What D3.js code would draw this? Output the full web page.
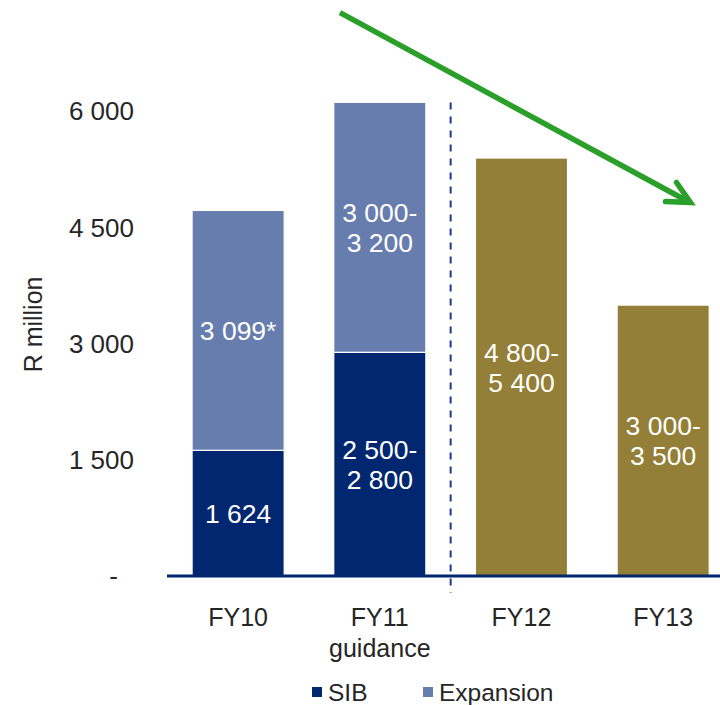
<!DOCTYPE html>
<html>
<head>
<meta charset="utf-8">
<script src="https://cdn.jsdelivr.net/npm/d3@7"></script>
<style>
  body { margin: 0; background: #fff; }
  svg { display: block; font-family: "Liberation Sans", Arial, sans-serif; }
</style>
</head>
<body>
<div class="visHolder"></div>
<script>
// ========================================
// Data
// ========================================
const categories = ['FY10', 'FY11', 'FY12', 'FY13'];
const categoryLines = [['FY10'], ['FY11', 'guidance'], ['FY12'], ['FY13']];
const sibValues = [1624, 2890, 0, 0];          // bottom segment (FY11 drawn at ~2 890)
const expansionValues = [3099, 3230, 0, 0];    // top segment
const forecastValues = [0, 0, 5400, 3500];     // single olive bars
const sibLabels = [['1 624'], ['2 500-', '2 800'], [], []];
const expansionLabels = [['3 099*'], ['3 000-', '3 200'], [], []];
const forecastLabels = [[], [], ['4 800-', '5 400'], ['3 000-', '3 500']];
const yTicks = [0, 1500, 3000, 4500, 6000];
const legendData = [
  {label: 'SIB', color: '#00276F'},
  {label: 'Expansion', color: '#677DAD'}
];

// ========================================
// Dimensions
// ========================================
const width = 720, height = 705,
  baseY = 576, topY = 111.6,      // y position of 0 and 6 000
  sibColor = '#00276F', expColor = '#677DAD', foreColor = '#937F37',
  textColor = '#262626', labelSize = 26.5, lineGap = 30;

const svg = d3.select('.visHolder')
  .append('svg')
    .attr('width', width)
    .attr('height', height);

const x = d3.scaleBand()
  .domain(categories)
  .range([142.5, 758.8])
  .paddingInner(0.35)
  .paddingOuter(0.35);

const y = d3.scaleLinear()
  .domain([0, 6000])
  .range([baseY, topY]);

// ========================================
// Y axis (labels only)
// ========================================
const spaceFmt = v => v === 0 ? '-' : d3.format(',')(v).replace(/,/g, ' ');
const yAxis = svg.append('g')
  .attr('transform', 'translate(134,0)')
  .call(d3.axisLeft(y).tickValues(yTicks).tickFormat(spaceFmt).tickSize(0).tickPadding(0))
  .attr('font-family', null)
  .attr('font-size', null);
yAxis.select('.domain').remove();
yAxis.selectAll('text')
  .attr('fill', textColor)
  .style('font-size', '26px')
  .attr('dx', d => d === 0 ? -16 : 0);

svg.append('text')
  .attr('transform', 'translate(42,' + y(3250) + ') rotate(-90)')
  .attr('text-anchor', 'middle')
  .attr('fill', textColor)
  .style('font-size', '25px')
  .text('R million');

// ========================================
// Bars
// ========================================
const bars = svg.append('g');
const rows = categories.map((c, i) => ({
  c, i, sib: sibValues[i], exp: expansionValues[i], fore: forecastValues[i]
}));

bars.selectAll('rect.sib')
  .data(rows.filter(d => d.sib > 0))
  .enter().append('rect')
    .attr('class', 'sib')
    .attr('x', d => x(d.c))
    .attr('width', x.bandwidth())
    .attr('y', d => y(d.sib))
    .attr('height', d => y(0) - y(d.sib))
    .attr('fill', sibColor)
    .attr('stroke', '#ffffff')
    .attr('stroke-width', 1.2);

bars.selectAll('rect.exp')
  .data(rows.filter(d => d.exp > 0))
  .enter().append('rect')
    .attr('class', 'exp')
    .attr('x', d => x(d.c))
    .attr('width', x.bandwidth())
    .attr('y', d => y(d.sib + d.exp))
    .attr('height', d => y(d.sib) - y(d.sib + d.exp))
    .attr('fill', expColor)
    .attr('stroke', '#ffffff')
    .attr('stroke-width', 1.2);

bars.selectAll('rect.fore')
  .data(rows.filter(d => d.fore > 0))
  .enter().append('rect')
    .attr('class', 'fore')
    .attr('x', d => x(d.c))
    .attr('width', x.bandwidth())
    .attr('y', d => y(d.fore))
    .attr('height', d => y(0) - y(d.fore))
    .attr('fill', foreColor)
    .attr('stroke', '#ffffff')
    .attr('stroke-width', 1.2);

// labels inside bars, centred on each segment
function addLabel(lines, cx, cy) {
  if (!lines.length) return;
  const t = svg.append('text')
    .attr('text-anchor', 'middle')
    .attr('fill', '#ffffff')
    .style('font-size', labelSize + 'px');
  const first = cy - (lines.length - 1) * lineGap / 2;
  lines.forEach((l, k) => {
    t.append('tspan')
      .attr('x', cx)
      .attr('y', first + k * lineGap)
      .attr('dy', '0.36em')
      .text(l);
  });
}
rows.forEach(d => {
  const cx = x(d.c) + x.bandwidth() / 2;
  if (d.sib > 0) addLabel(sibLabels[d.i], cx, (y(0) + y(d.sib)) / 2);
  if (d.exp > 0) addLabel(expansionLabels[d.i], cx, (y(d.sib) + y(d.sib + d.exp)) / 2);
  if (d.fore > 0) addLabel(forecastLabels[d.i], cx, (y(0) + y(d.fore)) / 2);
});

// ========================================
// Baseline and dashed divider
// ========================================
svg.append('line')
  .attr('x1', 167).attr('x2', width)
  .attr('y1', y(0)).attr('y2', y(0))
  .attr('stroke', '#00276F')
  .attr('stroke-width', 3);

const divX = (x('FY11') + x.bandwidth() + x('FY12')) / 2;
svg.append('line')
  .attr('x1', divX).attr('x2', divX)
  .attr('y1', y(6000) - 9).attr('y2', y(0) + 17)
  .attr('stroke', '#1F3C8C')
  .attr('stroke-width', 2)
  .attr('stroke-dasharray', '7,7');

// ========================================
// Category labels
// ========================================
categories.forEach((c, i) => {
  const t = svg.append('text')
    .attr('text-anchor', 'middle')
    .attr('fill', textColor)
    .style('font-size', '25px');
  categoryLines[i].forEach((l, k) => {
    t.append('tspan')
      .attr('x', x(c) + x.bandwidth() / 2)
      .attr('y', 617 + k * 31)
      .attr('dy', '0.36em')
      .text(l);
  });
});

// ========================================
// Legend
// ========================================
const legend = svg.append('g').attr('transform', 'translate(312,692)');
const legendX = [0, 111];
legend.selectAll('rect')
  .data(legendData)
  .enter().append('rect')
    .attr('x', (d, i) => legendX[i])
    .attr('y', -5)
    .attr('width', 10)
    .attr('height', 10)
    .attr('fill', d => d.color);
legend.selectAll('text')
  .data(legendData)
  .enter().append('text')
    .attr('x', (d, i) => legendX[i] + 16)
    .attr('y', 0)
    .attr('dy', '0.36em')
    .attr('fill', textColor)
    .style('font-size', '24.5px')
    .text(d => d.label);

// ========================================
// Green trend arrow (annotation)
// ========================================
svg.append('path')
  .attr('d', 'M340,12.7 L689,202')
  .attr('fill', 'none')
  .attr('stroke', '#2A9F2A')
  .attr('stroke-width', 5.5);
svg.append('path')
  .attr('d', 'M676.5,182.5 L690.5,202.5 L665.5,201.5')
  .attr('fill', 'none')
  .attr('stroke', '#2A9F2A')
  .attr('stroke-width', 5.5)
  .attr('stroke-linecap', 'round')
  .attr('stroke-linejoin', 'miter');
</script>
</body>
</html>
